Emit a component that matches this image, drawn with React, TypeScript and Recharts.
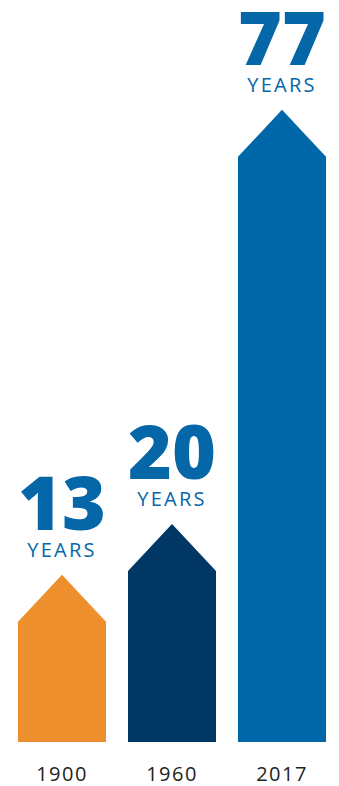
import { BarChart, Bar, XAxis, YAxis, Cell, LabelList } from "recharts";

const years = ["1900", "1960", "2017"];
const lifespan = [13, 20, 77];
const unit = "YEARS";

const palette = ["#EC8F2C", "#003764", "#0067A8"];
const labelBlue = "#0566A8";

const data = years.map((year, i) => ({ year, value: lifespan[i] }));

const HEAD = 47;

// bars grow from the bottom of the plot area, not from zero
function ArrowBar(props: any) {
  const { x, y, width, height, fill, background } = props;
  const bottom = background ? background.y + background.height : y + height;
  const pts = [
    [x, bottom],
    [x, y + HEAD],
    [x + width / 2, y],
    [x + width, y + HEAD],
    [x + width, bottom],
  ]
    .map((p) => p.join(","))
    .join(" ");
  return <polygon points={pts} fill={fill} />;
}

function ValueLabel(props: any) {
  const { x, y, width, value } = props;
  const cx = x + width / 2;
  return (
    <g>
      <text
        x={cx}
        y={y - 45}
        textAnchor="middle"
        fill={labelBlue}
        fontFamily="'Open Sans', sans-serif"
        fontWeight={800}
        fontSize={75}
      >
        {value}
      </text>
      <text
        x={cx}
        y={y - 18}
        textAnchor="middle"
        fill={labelBlue}
        fontFamily="'Open Sans', sans-serif"
        fontSize={20}
        letterSpacing={2.2}
      >
        {unit}
      </text>
    </g>
  );
}

function YearTick(props: any) {
  const { x, y, payload } = props;
  return (
    <text
      x={x}
      y={y + 37}
      textAnchor="middle"
      fill="#231F20"
      fontFamily="'Open Sans', sans-serif"
      fontSize={20}
      letterSpacing={1.5}
    >
      {payload.value}
    </text>
  );
}

export default function App() {
  return (
    <div style={{ position: "absolute", top: 0, left: 0, background: "#fff" }}>
      <BarChart
        width={339}
        height={786}
        data={data}
        margin={{ top: 88, right: 2, bottom: 0, left: 7 }}
        barCategoryGap={0}
      >
        <XAxis
          dataKey="year"
          axisLine={false}
          tickLine={false}
          tickSize={0}
          height={44}
          interval={0}
          tick={<YearTick />}
        />
        <YAxis hide domain={[-10, 80]} />
        <Bar
          dataKey="value"
          barSize={88}
          shape={<ArrowBar />}
          isAnimationActive={false}
        >
          {data.map((d, i) => (
            <Cell key={d.year} fill={palette[i]} />
          ))}
          <LabelList dataKey="value" content={<ValueLabel />} />
        </Bar>
      </BarChart>
    </div>
  );
}
